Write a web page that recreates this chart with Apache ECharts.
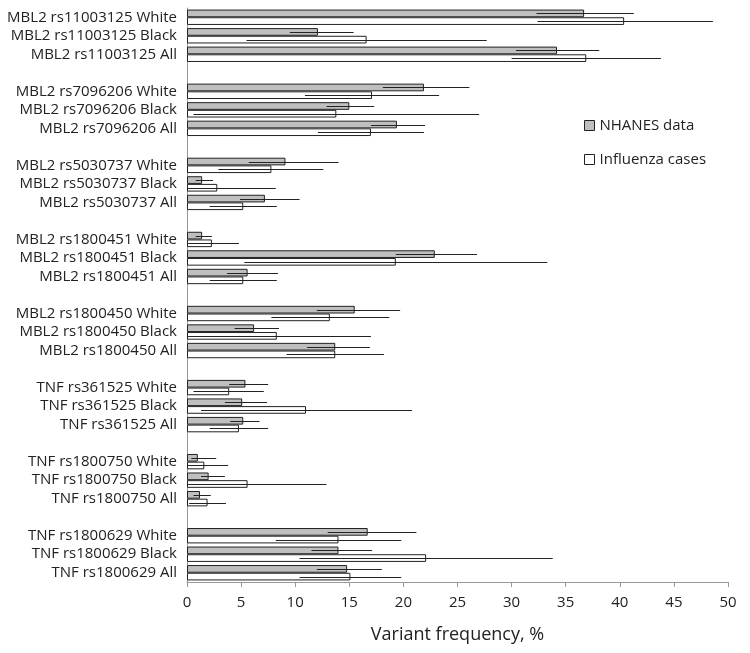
<!DOCTYPE html>
<html>
<head>
<meta charset="utf-8">
<script src="https://cdn.jsdelivr.net/npm/echarts@6/dist/echarts.min.js"></script>
<style>html,body{margin:0;padding:0;background:#fff}#c{width:750px;height:653px}</style>
</head>
<body>
<div id="c"></div>
<script>
const categories = [
  'MBL2 rs11003125 White','MBL2 rs11003125 Black','MBL2 rs11003125 All','',
  'MBL2 rs7096206 White','MBL2 rs7096206 Black','MBL2 rs7096206 All','',
  'MBL2 rs5030737 White','MBL2 rs5030737 Black','MBL2 rs5030737 All','',
  'MBL2 rs1800451 White','MBL2 rs1800451 Black','MBL2 rs1800451 All','',
  'MBL2 rs1800450 White','MBL2 rs1800450 Black','MBL2 rs1800450 All','',
  'TNF rs361525 White','TNF rs361525 Black','TNF rs361525 All','',
  'TNF rs1800750 White','TNF rs1800750 Black','TNF rs1800750 All','',
  'TNF rs1800629 White','TNF rs1800629 Black','TNF rs1800629 All'
];
const nhanes     = [36.7,12.1,34.2,'-', 21.9,15.0,19.4,'-', 9.1,1.4,7.2,'-', 1.4,22.9,5.6,'-', 15.5,6.2,13.7,'-', 5.4,5.1,5.2,'-', 1.0,2.0,1.2,'-', 16.7,14.0,14.8];
const nhanesLow  = [32.3,9.5,30.4,'-',  18.1,12.9,17.0,'-', 5.7,0.8,4.9,'-', 0.8,19.3,3.7,'-', 12.0,4.4,11.1,'-', 3.9,3.5,4.0,'-', 0.4,1.3,0.6,'-', 13.0,11.5,12.0];
const nhanesHigh = [41.3,15.4,38.1,'-', 26.1,17.3,22.0,'-', 14.0,2.4,10.4,'-', 2.3,26.8,8.4,'-', 19.7,8.5,16.9,'-', 7.5,7.4,6.7,'-', 2.7,3.5,2.2,'-', 21.2,17.1,18.0];
const flu        = [40.4,16.6,36.9,'-', 17.1,13.8,17.0,'-', 7.8,2.8,5.2,'-', 2.3,19.3,5.2,'-', 13.2,8.3,13.7,'-', 3.9,11.0,4.8,'-', 1.6,5.6,1.9,'-', 14.0,22.1,15.1];
const fluLow     = [32.4,5.5,30.0,'-',  10.9,0.6,12.1,'-', 2.9,0.1,2.1,'-', 0.1,5.3,2.1,'-', 7.8,0.1,9.2,'-', 0.6,1.3,2.1,'-', 0.1,0.1,0.2,'-', 8.2,10.4,10.4];
const fluHigh    = [48.6,27.7,43.8,'-', 23.3,27.0,21.9,'-', 12.6,8.2,8.3,'-', 4.8,33.3,8.3,'-', 18.7,17.0,18.2,'-', 7.1,20.8,7.5,'-', 3.8,12.9,3.6,'-', 19.8,33.8,19.8];
const xTicks = [0,5,10,15,20,25,30,35,40,45,50];

const GAP = 0.17;
function errData(lo, hi){
  const d = [];
  for (let i = 0; i < categories.length; i++) {
    if (lo[i] !== '-') d.push([i, lo[i], hi[i]]);
  }
  return d;
}
function makeRender(seriesIdx){
  return function(params, api){
    const ci = api.value(0);
    const p1 = api.coord([api.value(1), ci]);
    const p2 = api.coord([api.value(2), ci]);
    const bw = api.size([0, 1])[1];
    const w = bw * (1 - GAP) / 2;
    const off = seriesIdx === 0 ? -w / 2 : w / 2;
    const y = Math.round(p1[1] + off) + 0.5;
    return {
      type: 'line',
      shape: {x1: p1[0], y1: y, x2: p2[0], y2: y},
      style: {stroke: '#222', lineWidth: 1}
    };
  };
}

const chart = echarts.init(document.getElementById('c'), null, {renderer: 'canvas'});
chart.setOption({
  animation: false,
  textStyle: {fontFamily: 'Open Sans'},
  grid: {left: 187, right: 22, top: 8, bottom: 71, containLabel: false},
  legend: {
    orient: 'vertical', left: 579, top: 113,
    itemWidth: 10, itemHeight: 10, itemGap: 19,
    textStyle: {fontSize: 15, color: '#222', fontFamily: 'Open Sans'},
    data: [
      {name: 'NHANES data', icon: 'rect', itemStyle: {color: '#bfbfbf', borderColor: '#222', borderWidth: 1}},
      {name: 'Influenza cases', icon: 'rect', itemStyle: {color: '#fff', borderColor: '#222', borderWidth: 1}}
    ]
  },
  xAxis: {
    type: 'value', min: 0, max: 50, interval: 5,
    name: 'Variant frequency, %', nameLocation: 'middle', nameGap: 44,
    nameTextStyle: {fontSize: 18, color: '#222', fontFamily: 'Open Sans'},
    axisLine: {show: true, lineStyle: {color: '#999', width: 1}},
    axisTick: {show: true, length: 5, lineStyle: {color: '#999'}},
    axisLabel: {fontSize: 15, color: '#222', margin: 13, formatter: v => xTicks.includes(v) ? String(v) : ''},
    splitLine: {show: false}
  },
  yAxis: {
    type: 'category', data: categories, inverse: true,
    axisLine: {show: true, lineStyle: {color: '#999', width: 1}},
    axisTick: {show: false},
    axisLabel: {fontSize: 15, color: '#222', margin: 10, interval: 0},
    splitLine: {show: false}
  },
  series: [
    {name: 'NHANES data', type: 'bar', data: nhanes, barGap: '0%', barCategoryGap: (GAP*100) + '%',
      itemStyle: {color: '#bfbfbf', borderColor: '#222', borderWidth: 1}},
    {name: 'Influenza cases', type: 'bar', data: flu, barGap: '0%', barCategoryGap: (GAP*100) + '%',
      itemStyle: {color: '#fff', borderColor: '#222', borderWidth: 1}},
    {type: 'custom', data: errData(nhanesLow, nhanesHigh), renderItem: makeRender(0),
      encode: {y: 0, x: [1, 2]}, z: 5, silent: true},
    {type: 'custom', data: errData(fluLow, fluHigh), renderItem: makeRender(1),
      encode: {y: 0, x: [1, 2]}, z: 5, silent: true}
  ]
});
</script>
</body>
</html>
